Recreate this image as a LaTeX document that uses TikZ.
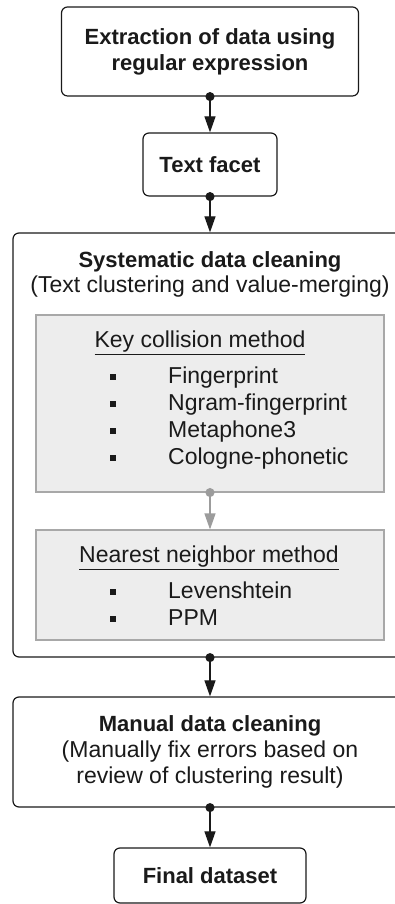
\documentclass[tikz,border=0pt]{standalone}
\usepackage{fontspec}
\setmainfont{Liberation Sans}
\usetikzlibrary{arrows.meta,positioning}
\definecolor{Ink}{HTML}{1A1A1A}
\definecolor{PanelGrey}{HTML}{EDEDED}
\definecolor{PanelEdge}{HTML}{A8A8A8}
\definecolor{LinkGrey}{HTML}{9C9C9C}
\newcommand{\sqbullet}{\rule[4pt]{5.5pt}{5.5pt}}

\begin{document}
\begin{tikzpicture}[x=1pt,y=1pt]
  \path[use as bounding box] (0,0) rectangle (395,904);
  \tikzset{
    flowStep/.style={
      draw=Ink, fill=white, line width=1.2pt, rounded corners=6pt,
      align=center, inner sep=0pt, text=Ink,
      font=\fontsize{22}{26}\selectfont\bfseries
    },
    flowPanel/.style={
      draw=PanelEdge, fill=PanelGrey, line width=1.1pt, inner sep=0pt
    },
    flowText/.style={
      anchor=base, text=Ink, inner sep=0pt,
      font=\fontsize{23}{26}\selectfont
    },
    flowLink/.style={
      {Circle[length=9pt]}-{Triangle[length=16pt,width=11pt]},
      draw=Ink, line width=1.2pt, shorten <=-4.5pt
    },
    flowLinkSoft/.style={
      flowLink, draw=LinkGrey, fill=LinkGrey
    }
  }

  \node[flowStep, minimum width=297pt, minimum height=89pt] (extract)
    at (210,852.5) {Extraction of data using\\regular expression};
  \node[flowStep, minimum width=134pt, minimum height=63pt] (facet)
    at (210,739.5) {Text facet};

  % systematic cleaning with its two methods
  \node[flowStep, minimum width=394pt, minimum height=424pt] (system)
    at (210,459) {};
  \node[flowText, font=\fontsize{22}{26}\selectfont\bfseries] (systitle)
    at (210,636) {Systematic data cleaning};
  \node[flowText] (syssub) at (210,611) {(Text clustering and value-merging)};

  \node[flowPanel, minimum width=348pt, minimum height=177pt] (keypanel)
    at (210,500.5) {};
  \node[flowText] (keyhead) at (200,556) {\underline{Key collision method}};
  \node[flowText, anchor=base west, align=left] (keylist) at (110,520)
    {\begin{tabular}[t]{@{}p{58pt}@{}l@{}}
       \sqbullet & Fingerprint\\[1pt]
       \sqbullet & Ngram-fingerprint\\[1pt]
       \sqbullet & Metaphone3\\[1pt]
       \sqbullet & Cologne-phonetic
     \end{tabular}};

  \node[flowPanel, minimum width=348pt, minimum height=110pt] (nearpanel)
    at (210,319) {};
  \node[flowText] (nearhead) at (209,341) {\underline{Nearest neighbor method}};
  \node[flowText, anchor=base west, align=left] (nearlist) at (110,305)
    {\begin{tabular}[t]{@{}p{58pt}@{}l@{}}
       \sqbullet & Levenshtein\\[1pt]
       \sqbullet & PPM
     \end{tabular}};

  \node[flowStep, minimum width=394pt, minimum height=110pt] (manual)
    at (210,152)
    {Manual data cleaning\\
     \fontsize{23}{26}\selectfont\mdseries (Manually fix errors based on\\
     \fontsize{23}{26}\selectfont\mdseries review of clustering result)};
  \node[flowStep, minimum width=192pt, minimum height=55pt] (final)
    at (210,28.5) {Final dataset};

  \draw[flowLink] (extract.south) -- (facet.north);
  \draw[flowLink] (facet.south) -- (system.north);
  \draw[flowLinkSoft] (keypanel.south) -- (nearpanel.north);
  \draw[flowLink] (system.south) -- (manual.north);
  \draw[flowLink] (manual.south) -- (final.north);
\end{tikzpicture}
\end{document}
